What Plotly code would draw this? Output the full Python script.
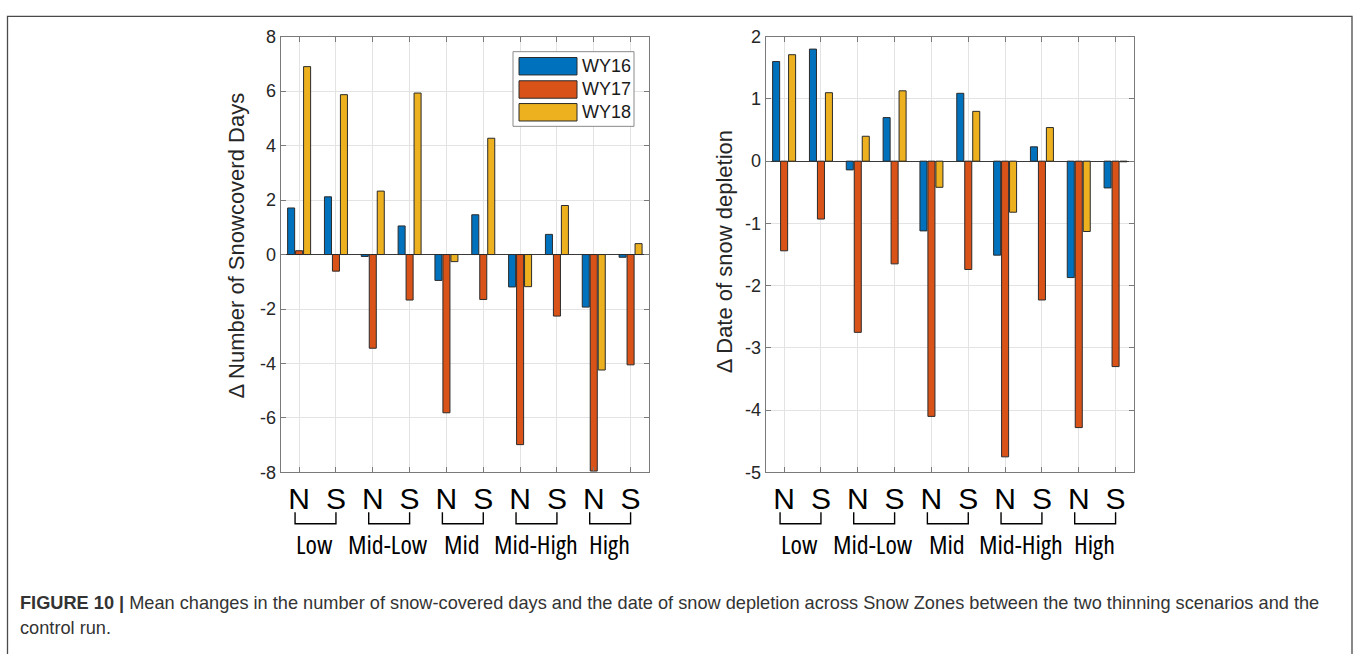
import plotly.graph_objects as go

# ---------------- data ----------------
categories = [1, 2, 3, 4, 5, 6, 7, 8, 9, 10]
tick_labels = ["N", "S", "N", "S", "N", "S", "N", "S", "N", "S"]
zone_names = ["Low", "Mid-Low", "Mid", "Mid-High", "High"]
series_names = ["WY16", "WY17", "WY18"]
series_colors = ["#0072BD", "#D95319", "#EDB120"]

snowcover_wy16 = [1.71, 2.12, -0.07, 1.05, -0.95, 1.46, -1.19, 0.74, -1.93, -0.10]
snowcover_wy17 = [0.14, -0.61, -3.44, -1.67, -5.81, -1.65, -6.98, -2.26, -7.95, -4.05]
snowcover_wy18 = [6.90, 5.87, 2.33, 5.93, -0.26, 4.27, -1.18, 1.80, -4.24, 0.40]

depletion_wy16 = [1.60, 1.80, -0.14, 0.70, -1.12, 1.09, -1.51, 0.23, -1.87, -0.43]
depletion_wy17 = [-1.44, -0.93, -2.75, -1.65, -4.10, -1.74, -4.75, -2.23, -4.28, -3.30]
depletion_wy18 = [1.71, 1.10, 0.40, 1.13, -0.42, 0.80, -0.82, 0.54, -1.13, -0.01]

left_yticks = [-8, -6, -4, -2, 0, 2, 4, 6, 8]
right_yticks = [-5, -4, -3, -2, -1, 0, 1, 2]

left_title = "Δ Number of Snowcoverd Days"
right_title = "Δ Date of snow depletion"
caption_bold = "FIGURE 10 |"
caption_line1 = " Mean changes in the number of snow-covered days and the date of snow depletion across Snow Zones between the two thinning scenarios and the"
caption_line2 = "control run."

W, H = 1360, 654


def px(xp):
    return xp / W


def py(yp):
    return 1 - yp / H


fig = go.Figure()

left_series = [snowcover_wy16, snowcover_wy17, snowcover_wy18]
right_series = [depletion_wy16, depletion_wy17, depletion_wy18]
for name, color, vals in zip(series_names, series_colors, left_series):
    fig.add_trace(go.Bar(x=categories, y=vals, name=name, marker_color=color,
                         marker_line=dict(color="#2b2b2b", width=1),
                         xaxis="x", yaxis="y", showlegend=False))
for name, color, vals in zip(series_names, series_colors, right_series):
    fig.add_trace(go.Bar(x=categories, y=vals, name=name, marker_color=color,
                         marker_line=dict(color="#2b2b2b", width=1),
                         xaxis="x2", yaxis="y2", showlegend=False))

axis_line = "#7a7a7a"
grid_col = "#e3e3e3"
ydom = [py(477), py(27.5)]
sans = "Liberation Sans, Arial, sans-serif"

xcommon = dict(range=[0.5, 10.5], tickvals=categories, ticktext=tick_labels,
               ticks="inside", ticklen=5, tickcolor=axis_line, showline=True,
               linecolor=axis_line, linewidth=1, mirror="allticks",
               showgrid=True, gridcolor=grid_col, gridwidth=1, zeroline=False,
               tickfont=dict(family=sans, size=30, color="black"))
ycommon = dict(ticks="inside", ticklen=5, tickcolor=axis_line, showline=True,
               linecolor=axis_line, linewidth=1, mirror="allticks",
               showgrid=True, gridcolor=grid_col, gridwidth=1,
               zeroline=True, zerolinecolor="#3a3a3a", zerolinewidth=1,
               tickfont=dict(family=sans, size=18, color="#262626"))

fig.update_layout(
    width=W, height=H,
    margin=dict(l=0, r=0, t=0, b=0),
    paper_bgcolor="white", plot_bgcolor="white",
    barmode="group", bargap=0.35, bargroupgap=0.12,
    showlegend=False,
    xaxis=dict(domain=[px(280.7), px(649)], anchor="y", **xcommon),
    xaxis2=dict(domain=[px(765.7), px(1134)], anchor="y2", **xcommon),
    yaxis=dict(domain=ydom, anchor="x", range=[-8, 8], tickvals=left_yticks,
               ticktext=[str(v) for v in left_yticks], **ycommon),
    yaxis2=dict(domain=ydom, anchor="x2", range=[-5, 2], tickvals=right_yticks,
                ticktext=[str(v) for v in right_yticks], **ycommon),
)

shapes = []
annotations = []

# outer frame
shapes.append(dict(type="rect", xref="paper", yref="paper",
                   x0=px(7.5), x1=px(1352), y0=-0.05, y1=py(6.5),
                   line=dict(color="#4a4a4a", width=1.3), fillcolor="rgba(0,0,0,0)"))

# brackets and zone labels
for xr in ["x", "x2"]:
    for i, zname in enumerate(zone_names):
        n = categories[2 * i]
        s = categories[2 * i + 1]
        x0 = n - 0.11
        x1 = s
        ya, yb = py(518), py(530)
        shapes.append(dict(type="path", xref=xr, yref="paper",
                           path=f"M {x0},{ya} L {x0},{yb} L {x1},{yb} L {x1},{ya}",
                           line=dict(color="black", width=1.4)))
        annotations.append(dict(x=(n + s) / 2 - 0.08, y=py(551), xref=xr, yref="paper",
                                text=f'<span style="font-stretch:condensed">{zname}</span>',
                                showarrow=False, xanchor="center", yanchor="middle",
                                font=dict(family="Open Sans, sans-serif", size=26, color="black")))

# y-axis titles
annotations.append(dict(x=px(237), y=py(243), xref="paper", yref="paper", text=left_title,
                        textangle=-90, showarrow=False, xanchor="center", yanchor="middle",
                        font=dict(family=sans, size=22, color="#262626")))
annotations.append(dict(x=px(724), y=py(250), xref="paper", yref="paper", text=right_title,
                        textangle=-90, showarrow=False, xanchor="center", yanchor="middle",
                        font=dict(family=sans, size=22, color="#262626")))

# legend (manual, MATLAB style)
shapes.append(dict(type="rect", xref="paper", yref="paper",
                   x0=px(513), x1=px(634), y0=py(120), y1=py(43),
                   line=dict(color="#8a8a8a", width=1), fillcolor="white"))
row_centers = [58, 82, 105.5]
for name, color, yc in zip(series_names, series_colors, row_centers):
    shapes.append(dict(type="rect", xref="paper", yref="paper",
                       x0=px(519), x1=px(577), y0=py(yc + 9), y1=py(yc - 9),
                       line=dict(color="#2b2b2b", width=1), fillcolor=color))
    annotations.append(dict(x=px(580), y=py(yc), xref="paper", yref="paper", text=name,
                            showarrow=False, xanchor="left", yanchor="middle",
                            font=dict(family=sans, size=18, color="#1a1a1a")))

# caption
annotations.append(dict(x=px(18), y=py(612), xref="paper", yref="paper",
                        text=f"<b>{caption_bold}</b>{caption_line1}",
                        showarrow=False, xanchor="left", yanchor="middle",
                        font=dict(family=sans, size=18.2, color="#333333")))
annotations.append(dict(x=px(18), y=py(638), xref="paper", yref="paper",
                        text=caption_line2,
                        showarrow=False, xanchor="left", yanchor="middle",
                        font=dict(family=sans, size=18.2, color="#333333")))

fig.update_layout(shapes=shapes, annotations=annotations)

fig.write_html("out.html", config={"displayModeBar": False},
               post_script="document.body.style.margin='0';document.body.style.overflow='hidden';")
